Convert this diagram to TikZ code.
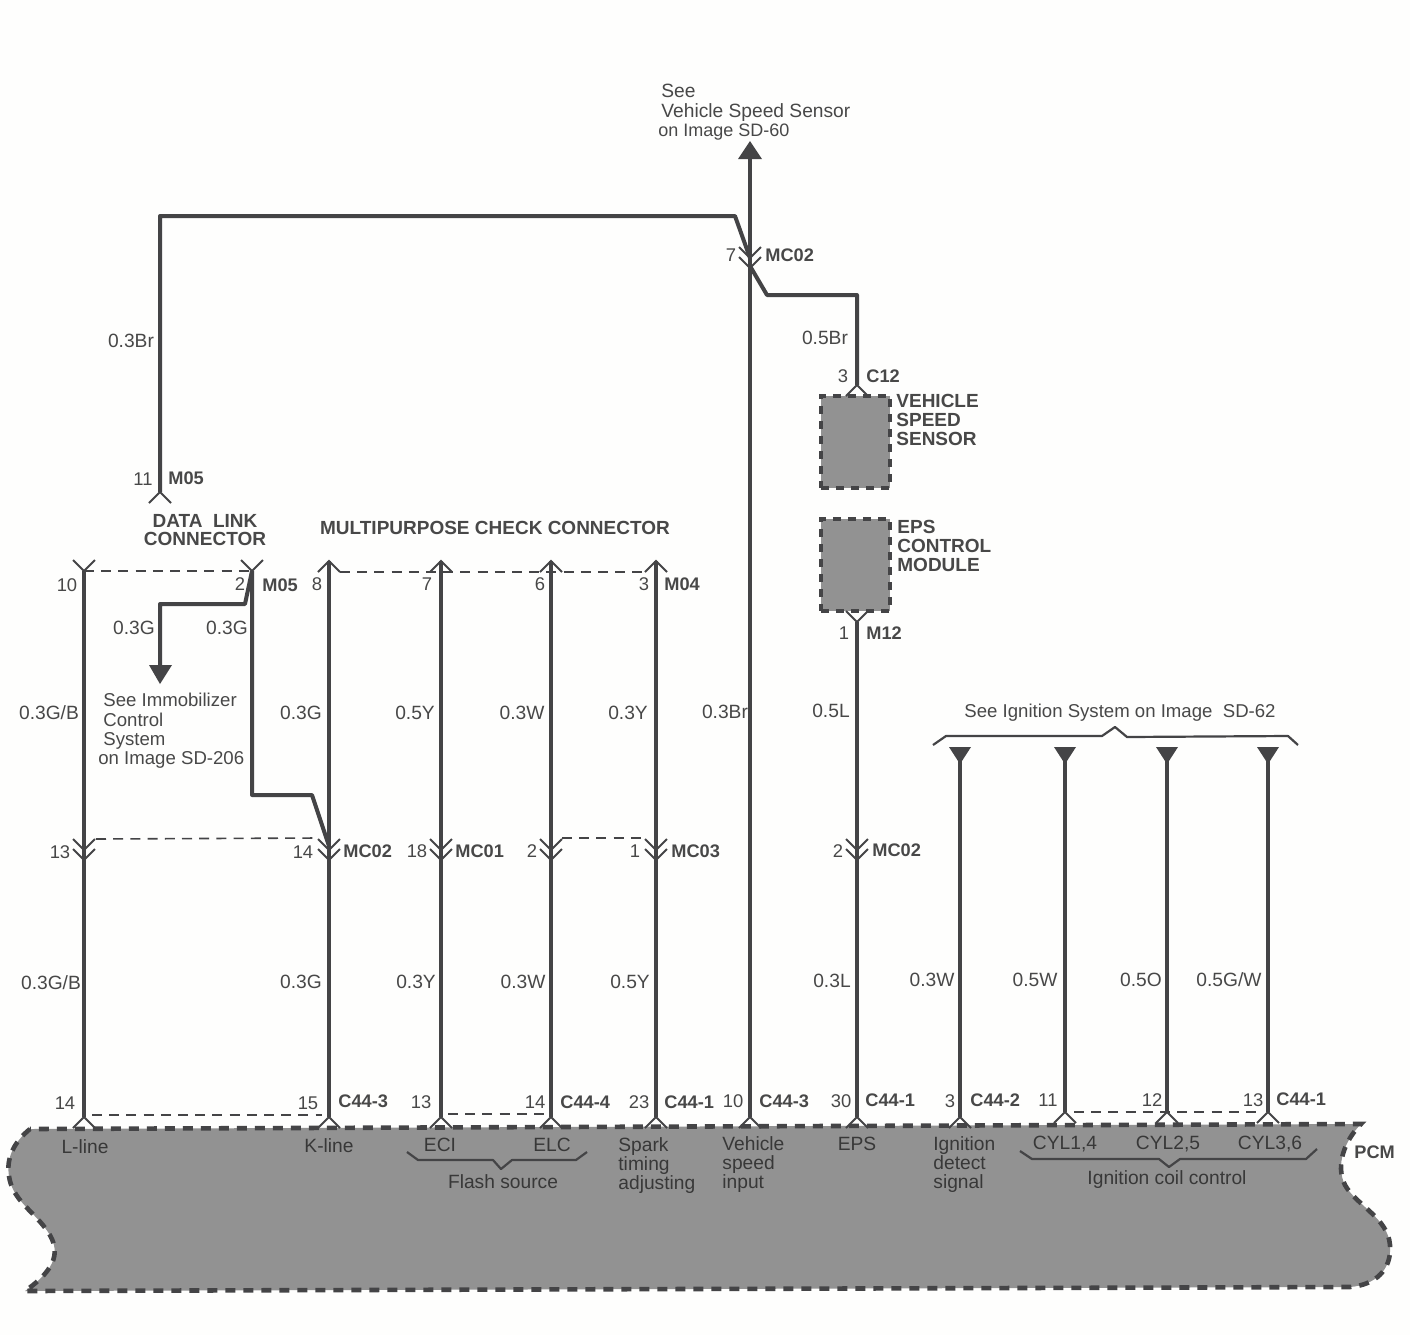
\documentclass[tikz,border=0pt]{standalone}
\usepackage{fontspec}
\setmainfont{Liberation Sans}
\definecolor{wirecol}{RGB}{68,68,70}
\definecolor{txtcol}{RGB}{72,72,72}
\definecolor{pcmfill}{RGB}{146,146,146}
\definecolor{papercol}{RGB}{254,254,253}
\tikzset{
    wire/.style={draw=wirecol,line width=1.6pt},
    heavy wire/.style={draw=wirecol,line width=2pt,line join=round},
    tie/.style={draw=wirecol,line width=0.8pt,dash pattern=on 5pt off 3.6pt},
    pcm/.style={fill=pcmfill,draw=wirecol,line width=2.3pt,dash pattern=on 5pt off 4pt},
    unit/.style={fill=pcmfill,draw=wirecol,line width=2pt,dash pattern=on 4pt off 3.5pt},
    brace/.style={draw=wirecol,line width=1.1pt,line join=round},
    tri/.style={fill=wirecol,draw=none},
    lbl/.style={font=\fontsize{9.6}{9.6}\selectfont,text=txtcol,inner sep=0pt},
    see lbl/.style={lbl,font=\fontsize{9.3}{9.6}\selectfont,align=left},
    pinlbl/.style={lbl,font=\fontsize{9.2}{9.2}\selectfont},
    con/.style={lbl,font=\fontsize{9.1}{9.1}\selectfont\bfseries,anchor=west},
    bold lbl/.style={lbl,font=\fontsize{9.5}{9.4}\selectfont\bfseries,align=left},
    inside/.style={lbl,text=black!78,align=left},
    pics/hat/.style={code={\draw[draw=wirecol,line width=1pt] (-11,11) -- (0,0) -- (11,11);}},
    pics/dvee/.style={code={\draw[draw=wirecol,line width=1pt] (-11,-11) -- (0,0) -- (11,-11) (-11,-1) -- (0,10) -- (11,-1);}},
}
\begin{document}
\begin{tikzpicture}[x=0.5pt,y=-0.5pt]
    \useasboundingbox[fill=papercol] (0,0) rectangle (1410,1335);

    % PCM and boxes
    \path[pcm] (30,1129) .. controls (14,1142) and (6,1158) .. (9,1176)
        .. controls (12,1200) and (35,1212) .. (48,1232)
        .. controls (60,1250) and (58,1268) .. (25,1291) -- (1350,1287)
        .. controls (1375,1285) and (1392,1270) .. (1390,1245)
        .. controls (1388,1218) and (1356,1205) .. (1345,1185)
        .. controls (1335,1165) and (1345,1140) .. (1361,1124) -- cycle;
    \node[unit,minimum width=34.5pt,minimum height=46pt,inner sep=0pt] (vss) at (855,441.5) {};
    \node[unit,minimum width=34.5pt,minimum height=46pt,inner sep=0pt] (eps) at (855,565) {};

    % Wire end points
    \coordinate (dlctop) at (160,492);
    \coordinate (lefttop) at (160,216);
    \coordinate (toprun) at (735,216);
    \coordinate (lineA) at (84,571);
    \coordinate (lineAb) at (84,1117);
    \coordinate (lineB) at (252,571);
    \coordinate (lineBa) at (252,795);
    \coordinate (lineBb) at (312,795);
    \coordinate (immoA) at (245,604);
    \coordinate (immoB) at (160,604);
    \coordinate (immoC) at (160,666);
    \coordinate (lineC) at (329,561);
    \coordinate (lineCm) at (329,846);
    \coordinate (lineCb) at (329,1117);
    \coordinate (lineD) at (441,561);
    \coordinate (lineDb) at (441,1117);
    \coordinate (lineE) at (551,561);
    \coordinate (lineEb) at (551,1117);
    \coordinate (lineF) at (656,561);
    \coordinate (lineFb) at (656,1117);
    \coordinate (lineG) at (750,158);
    \coordinate (lineGm) at (750,258);
    \coordinate (lineGs) at (750,266);
    \coordinate (lineGb) at (750,1117);
    \coordinate (vssA) at (767,295);
    \coordinate (vssB) at (857,295);
    \coordinate (vssC) at (857,385);
    \coordinate (lineH) at (857,622);
    \coordinate (lineHb) at (857,1117);
    \coordinate (ignA) at (960,760);
    \coordinate (ignAb) at (960,1117);
    \coordinate (ignB) at (1065,760);
    \coordinate (ignBb) at (1065,1112);
    \coordinate (ignC) at (1167,760);
    \coordinate (ignCb) at (1167,1112);
    \coordinate (ignD) at (1268,760);
    \coordinate (ignDb) at (1268,1112);

    % Wires
    \path[wire]
        (lineA) edge (lineAb)
        (lineC) edge (lineCb)
        (lineD) edge (lineDb)
        (lineE) edge (lineEb)
        (lineF) edge (lineFb)
        (lineG) edge (lineGb)
        (lineH) edge (lineHb)
        (ignA) edge (ignAb)
        (ignB) edge (ignBb)
        (ignC) edge (ignCb)
        (ignD) edge (ignDb);
    \draw[heavy wire] (dlctop) -- (lefttop) -- (toprun) -- (lineGm);
    \draw[heavy wire] (lineGs) -- (vssA) -- (vssB) -- (vssC);
    \draw[heavy wire] (lineB) -- (lineBa) -- (lineBb) -- (lineCm);
    \draw[heavy wire] (lineB) -- (immoA) -- (immoB) -- (immoC);

    % Dashed ties
    \draw[tie] (lineA) -- (lineB);
    \draw[tie] (340,572) -- (644,572);
    \draw[tie] (96,839) -- (318,838);
    \draw[tie] (562,838) -- (646,838);
    \draw[tie] (92,1115) -- (322,1115);
    \draw[tie] (448,1114) -- (546,1114);
    \draw[tie] (1074,1112) -- (1262,1112);

    % Connector marks
    \pic at (dlctop) {hat};
    \pic[yscale=-1] at (lineA) {hat};
    \pic[yscale=-1] at (lineB) {hat};
    \pic at (lineC) {hat};
    \pic at (lineD) {hat};
    \pic at (lineE) {hat};
    \pic at (lineF) {hat};
    \pic at (vssC) {hat};
    \pic[yscale=-1] at (lineH) {hat};
    \pic at (lineGm) {dvee};
    \pic at (84,850) {dvee};
    \pic at (329,850) {dvee};
    \pic at (441,850) {dvee};
    \pic at (551,850) {dvee};
    \pic at (656,850) {dvee};
    \pic at (857,850) {dvee};
    \pic at (lineAb) {hat};
    \pic at (lineCb) {hat};
    \pic at (lineDb) {hat};
    \pic at (lineEb) {hat};
    \pic at (lineFb) {hat};
    \pic at (lineGb) {hat};
    \pic at (lineHb) {hat};
    \pic at (ignAb) {hat};
    \pic at (ignBb) {hat};
    \pic at (ignCb) {hat};
    \pic at (ignDb) {hat};

    % Arrow heads
    \fill[tri] (738,159) -- (750,141) -- (762,159) -- cycle;
    \fill[tri] (149,665) -- (172,665) -- (160,684) -- cycle;
    \fill[tri] (949,747) -- (971,747) -- (960,764) -- cycle;
    \fill[tri] (1054,747) -- (1076,747) -- (1065,764) -- cycle;
    \fill[tri] (1156,747) -- (1178,747) -- (1167,764) -- cycle;
    \fill[tri] (1257,747) -- (1279,747) -- (1268,764) -- cycle;

    % Braces
    \draw[brace] (933,745) -- (946,736) -- (1102,736) -- (1115,727) -- (1127,737) -- (1288,736) -- (1298,745);
    \draw[brace] (407,1152) -- (418,1160) -- (493,1160) -- (501,1169) -- (512,1160) -- (576,1160) -- (587,1152);
    \draw[brace] (1020,1151) -- (1032,1159) -- (1159,1159) -- (1169,1167) -- (1180,1159) -- (1306,1159) -- (1317,1149);

    % Titles
    \node[lbl,align=left,anchor=north west] (seevss) at (658,84) {\hspace{1.5pt}See\\\hspace{1.5pt}Vehicle Speed Sensor\\{\fontsize{9}{9.6}\selectfont on Image SD-60}};
    \node[see lbl,anchor=north west] (seeimmo) at (98,693) {\hspace{2.5pt}See Immobilizer\\\hspace{2.5pt}Control\\\hspace{2.5pt}System\\on Image SD-206};
    \node[see lbl] (seeign) at (1120,713) {See Ignition System on Image\ \ SD-62};
    \node[bold lbl,align=center] (dlc) at (205,530) {DATA\ \ LINK\hspace{4.5pt}\\CONNECTOR};
    \node[bold lbl] (mcc) at (495,528) {MULTIPURPOSE CHECK CONNECTOR};
    \node[bold lbl,anchor=north west] (vssname) at (896,394) {VEHICLE\\SPEED\\SENSOR};
    \node[bold lbl,anchor=north west] (epsname) at (897,520) {EPS\\CONTROL\\MODULE};
    \node[con] (pcmname) at (1354,1152) {PCM};

    % Wire colours
    \node[lbl] (c03br) at (131,341) {0.3Br};
    \node[lbl] (c05br) at (825,338) {0.5Br};
    \node[lbl] (c03ga) at (134,628) {0.3G};
    \node[lbl] (c03gb) at (227,628) {0.3G};
    \node[lbl] (c03gbtop) at (49,713) {0.3G/B};
    \node[lbl] (c03gk) at (301,713) {0.3G};
    \node[lbl] (c05y) at (415,713) {0.5Y};
    \node[lbl] (c03w) at (522,713) {0.3W};
    \node[lbl] (c03y) at (628,713) {0.3Y};
    \node[lbl] (c03brb) at (725,712) {0.3Br};
    \node[lbl] (c05l) at (831,711) {0.5L};
    \node[lbl] (c03gbbot) at (51,983) {0.3G/B};
    \node[lbl] (c03gkb) at (301,982) {0.3G};
    \node[lbl] (c03yb) at (416,982) {0.3Y};
    \node[lbl] (c03wb) at (523,982) {0.3W};
    \node[lbl] (c05yb) at (630,982) {0.5Y};
    \node[lbl] (c03l) at (832,981) {0.3L};
    \node[lbl] (c03wc) at (932,980) {0.3W};
    \node[lbl] (c05w) at (1035,980) {0.5W};
    \node[lbl] (c05o) at (1141,980) {0.5O};
    \node[lbl] (c05gw) at (1229,980) {0.5G/W};

    % Pin numbers
    \node[pinlbl] (p11) at (143,479) {11};
    \node[pinlbl] (p10) at (67,585) {10};
    \node[pinlbl] (p2a) at (240,584) {2};
    \node[pinlbl] (p8) at (317,584) {8};
    \node[pinlbl] (p7a) at (427,584) {7};
    \node[pinlbl] (p6) at (540,584) {6};
    \node[pinlbl] (p3a) at (644,584) {3};
    \node[pinlbl] (p7b) at (731,255) {7};
    \node[pinlbl] (p3b) at (843,376) {3};
    \node[pinlbl] (p1a) at (844,633) {1};
    \node[pinlbl] (p13a) at (60,852) {13};
    \node[pinlbl] (p14a) at (303,852) {14};
    \node[pinlbl] (p18) at (417,851) {18};
    \node[pinlbl] (p2b) at (532,851) {2};
    \node[pinlbl] (p1b) at (635,851) {1};
    \node[pinlbl] (p2c) at (838,851) {2};
    \node[pinlbl] (p14b) at (65,1103) {14};
    \node[pinlbl] (p15) at (308,1103) {15};
    \node[pinlbl] (p13b) at (421,1102) {13};
    \node[pinlbl] (p14c) at (535,1102) {14};
    \node[pinlbl] (p23) at (639,1102) {23};
    \node[pinlbl] (p10b) at (733,1101) {10};
    \node[pinlbl] (p30) at (841,1101) {30};
    \node[pinlbl] (p3c) at (950,1101) {3};
    \node[pinlbl] (p11b) at (1048,1100) {11};
    \node[pinlbl] (p12) at (1152,1100) {12};
    \node[pinlbl] (p13c) at (1253,1100) {13};

    % Connector names
    \node[con] (nm05a) at (168,478) {M05};
    \node[con] (nm05b) at (262,585) {M05};
    \node[con] (nm04) at (664,584) {M04};
    \node[con] (nmc02t) at (765,255) {MC02};
    \node[con] (nc12) at (866,376) {C12};
    \node[con] (nm12) at (866,633) {M12};
    \node[con] (nmc02a) at (343,851) {MC02};
    \node[con] (nmc01) at (455,851) {MC01};
    \node[con] (nmc03) at (671,851) {MC03};
    \node[con] (nmc02b) at (872,850) {MC02};
    \node[con] (nc3a) at (338,1101) {C44-3};
    \node[con] (nc4) at (560,1102) {C44-4};
    \node[con] (nc1a) at (664,1102) {C44-1};
    \node[con] (nc3b) at (759,1101) {C44-3};
    \node[con] (nc1b) at (865,1100) {C44-1};
    \node[con] (nc2) at (970,1100) {C44-2};
    \node[con] (nc1c) at (1276,1099) {C44-1};

    % PCM labels
    \node[inside] (tl) at (85,1147) {L-line};
    \node[inside] (tk) at (329,1146) {K-line};
    \node[inside] (teci) at (440,1145) {ECI};
    \node[inside] (telc) at (552,1145) {ELC};
    \node[inside] (tflash) at (503,1182) {Flash source};
    \node[inside,anchor=north west] (tspark) at (618,1137) {Spark\\timing\\adjusting};
    \node[inside,anchor=north west] (tveh) at (722,1136) {Vehicle\\speed\\input};
    \node[inside] (teps) at (857,1144) {EPS};
    \node[inside,anchor=north west] (tign) at (933,1136) {Ignition\\detect\\signal};
    \node[inside] (tcyla) at (1065,1144) {CYL1,4};
    \node[inside] (tcylb) at (1168,1144) {CYL2,5};
    \node[inside] (tcylc) at (1270,1144) {CYL3,6};
    \node[inside] (tcoil) at (1167,1180) {Ignition coil control};
\end{tikzpicture}
\end{document}
